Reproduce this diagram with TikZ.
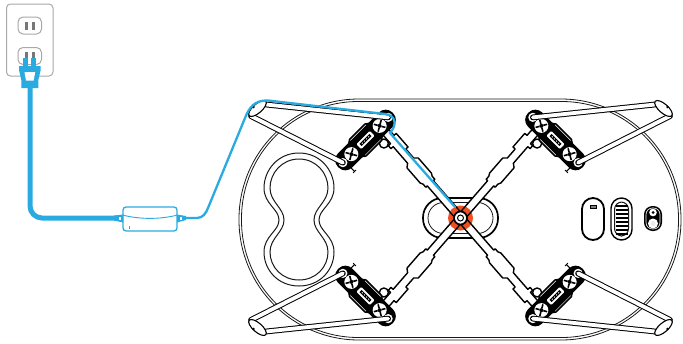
\documentclass[tikz,border=0pt]{standalone}
\begin{document}
\begin{tikzpicture}[x=1pt, y=-1pt]
\definecolor{cableblue}{HTML}{29ABE2}
\definecolor{hubred}{HTML}{EE4F23}
\definecolor{outletgray}{HTML}{A8A8A8}
\definecolor{slotgray}{HTML}{777777}
\tikzset{plateline/.style={draw=black!90, line width=0.8pt}}
\tikzset{armline/.style={draw=black, fill=white, line width=1.4pt, line join=round}}
\tikzset{legline/.style={draw=black, double=white, double distance=3.8pt, line width=1pt, line cap=round}}
\tikzset{btnline/.style={draw=black, fill=white, line width=1.8pt}}
\tikzset{outletline/.style={draw=outletgray, line width=1pt, fill=white}}
\tikzset{slot/.style={fill=slotgray}}
\tikzset{cable/.style={draw=cableblue, line width=2.3pt, line cap=round}}
\tikzset{adapterbox/.style={rectangle, draw=cableblue, fill=white, line width=1.3pt, rounded corners=3pt, minimum width=54pt, minimum height=24pt, inner sep=0pt}}
\useasboundingbox (0,0) rectangle (683,343);

\draw[plateline, rounded corners=120pt] (239,99) rectangle (681,340);
\draw[plateline, rounded corners=117pt] (241.5,101.5) rectangle (678.5,337.5);

\draw[plateline, line width=1pt] (299,153) .. controls (320,153) and (334,170) .. (334,188) .. controls (334,204) and (319,209) .. (319,220) .. controls (319,231) and (334,236) .. (334,252) .. controls (334,270) and (320,286) .. (299,286) .. controls (278,286) and (264,270) .. (264,252) .. controls (264,236) and (279,231) .. (279,220) .. controls (279,209) and (264,204) .. (264,188) .. controls (264,170) and (278,153) .. (299,153) -- cycle;
\draw[plateline, line width=1pt] (299,159) .. controls (316,159) and (328,173) .. (328,188) .. controls (328,202) and (314,208) .. (314,220) .. controls (314,232) and (328,238) .. (328,252) .. controls (328,267) and (316,280) .. (299,280) .. controls (282,280) and (270,267) .. (270,252) .. controls (270,238) and (284,232) .. (284,220) .. controls (284,208) and (270,202) .. (270,188) .. controls (270,173) and (282,159) .. (299,159) -- cycle;

\draw[draw=black, fill=white, line width=1.7pt, rounded corners=19.5pt] (423,198) rectangle (498,238);
\draw[plateline, rounded corners=15.5pt] (428,202.5) rectangle (493,233.5);

\foreach \sx/\sy/\n in {1/1/a, -1/1/b, 1/-1/c, -1/-1/d} {
\begin{scope}[shift={(460.5,218)}, xscale=\sx, yscale=\sy]
\begin{scope}[rotate=131]
\draw[armline] (14,-4) -- (46,-4) -- (46,-6) -- (50,-6) -- (53,-7.5) -- (73,-7.5) -- (76,-4) -- (98,-4) -- (98,-7) -- (102,-7) -- (102,-4) -- (122,-4) -- (122,4) -- (106,4) -- (106,7) -- (88,7) -- (88,4) -- (76,4) -- (73,7.5) -- (53,7.5) -- (50,6) -- (46,6) -- (46,4) -- (14,4);
\end{scope}
\begin{scope}[shift={(-95,-78)}, rotate=45]
\coordinate (padhi\n) at (32,0);
\coordinate (padlo\n) at (-32,0);
\draw[draw=black, line width=1pt] (-30,9) -- (-30,14.5);
\draw[draw=black, line width=1pt] (-32,14.5) -- (-28,14.5);
\draw[armline, line width=1.4pt] (10.5,15.5) circle (4.5);
\fill[black, rounded corners=9.5pt] (-38.5,-10) rectangle (38.5,10);
\fill[black] (-16,-9) -- (-11,-12.5) -- (11,-12.5) -- (16,-9) -- (16,9) -- (11,12.5) -- (-11,12.5) -- (-16,9) -- cycle;
\draw[white, line width=0.5pt] (-11,-10.5) -- (11,-10.5) (-11,10.5) -- (11,10.5);
\fill[white, rounded corners=1pt] (-9.5,-3.5) rectangle (9.5,3.5);
\fill[black] (-7,-1.5) rectangle (7,1.5);
\foreach \d in {-5,-2,1,4} \fill[white] (\d,-0.5) rectangle (\d+1,0.5);
\foreach \g in {-20,20} {
\fill[white] (\g,0) circle (7);
\fill[black] (\g,0) circle (2);
\foreach \t in {30,120,...,300} \draw[black, line width=1.6pt, shift={(\g,0)}, rotate=\t] (2,0) -- (6,0);
}
\foreach \g in {-32,32} \fill[white] (\g,0) circle (4.6);
\end{scope}
\coordinate (foot\n) at (-203,-109.5);
\coordinate (foota\n) at (-194.5,-113.5);
\coordinate (footb\n) at (-209.5,-102);
\draw[legline] (foota\n) -- (padhi\n);
\draw[legline] (footb\n) -- (padlo\n);
\draw[draw=black, fill=white, line width=1.1pt, shift={(foot\n)}, rotate=41] (0,0) ellipse (11 and 4.5);
\fill[black] (-207,-111) circle (1.3);
\end{scope}
}

\fill[hubred] (460.5,218) circle (12.5);
\foreach \a in {49,131,229,311} {
\draw[black, line width=1.3pt, shift={(460.5,218)}, rotate=\a] (5,-4) -- (15,-4) (5,4) -- (15,4);
}
\draw[black, fill=white, line width=1.7pt] (460.5,218) circle (6.5);
\draw[black, fill=white, line width=1pt] (460.5,218) circle (3);

\draw[btnline, rounded corners=11pt] (582,198) rectangle (604,240);
\draw[black, fill=black!50, line width=0.8pt] (590,205.5) rectangle (596,208.5);
\draw[btnline, line width=1.4pt, rounded corners=10.5pt] (611,198) rectangle (632,240);
\draw[plateline, line width=1pt, rounded corners=7.5pt] (614.5,202) rectangle (628.5,236);
\foreach \y in {206,210,...,234} \draw[black, line width=1.1pt] (615.5,\y) -- (627.5,\y);
\fill[black, rounded corners=8.5pt] (644,206) rectangle (662,231);
\draw[white, line width=0.6pt, rounded corners=6.5pt] (646,208) rectangle (660,229);
\fill[white] (653,212.5) circle (3.8);
\fill[black] (653,212.5) circle (1.5);
\fill[white] (653,223.5) circle (5);
\fill[black!8] (653,223.5) circle (2.5);

\draw[outletline, rounded corners=4pt] (6.5,4) rectangle (53,76);
\draw[outletline, rounded corners=5pt] (18,17) rectangle (41.5,34);
\draw[outletline, rounded corners=5pt] (18,47.5) rectangle (41.5,64.5);
\fill[slot] (25,21.7) rectangle (28,30);
\fill[slot] (32.3,21.7) rectangle (35.3,30);
\fill[slot] (25,52) rectangle (28,60);
\fill[slot] (32.3,52) rectangle (35.3,60);

\fill[cableblue] (23.3,58) rectangle (28.3,67);
\fill[cableblue] (31,58) rectangle (36,67);
\fill[cableblue] (19,66) -- (40.7,66) -- (40.7,70) -- (38.3,80) -- (38.3,88) -- (21.3,88) -- (21.3,80) -- (19,70) -- cycle;
\fill[white] (24.5,72) -- (35.2,72) -- (33.7,80.5) -- (26,80.5) -- cycle;
\coordinate (plug) at (30,87);
\node[adapterbox] (adapter) at (150,219) {};
\coordinate (lefttail) at (118,218);
\coordinate (righttail) at (185,218);
\coordinate (hubend) at (455,207);
\draw[cable, line width=5pt, line cap=butt, rounded corners=12pt] (plug) |- (lefttail);
\fill[cableblue] (114,215.5) -- (123,214.5) -- (123,222.5) -- (114,220.5) -- cycle;
\fill[white] (118.5,217) rectangle (121,220);
\fill[cableblue] (177,214.5) -- (186,216) -- (186,220) -- (177,222.5) -- cycle;
\fill[white] (179.5,217) rectangle (182,220);
\draw[cableblue, line width=0.9pt] (adapter.west |- 0,215) .. controls (140,219.5) and (160,219.5) .. (adapter.east |- 0,215);
\fill[cableblue] (128.5,225.5) rectangle (130,228.5);
\draw[cable] (righttail) -- (197,218) .. controls (203,218) and (206,213) .. (208,208) -- (245,118) .. controls (249,108) and (254,100) .. (268,100.5) -- (385,114) .. controls (395,115) and (398,124) .. (390,133) -- (hubend);
\end{tikzpicture}
\end{document}
